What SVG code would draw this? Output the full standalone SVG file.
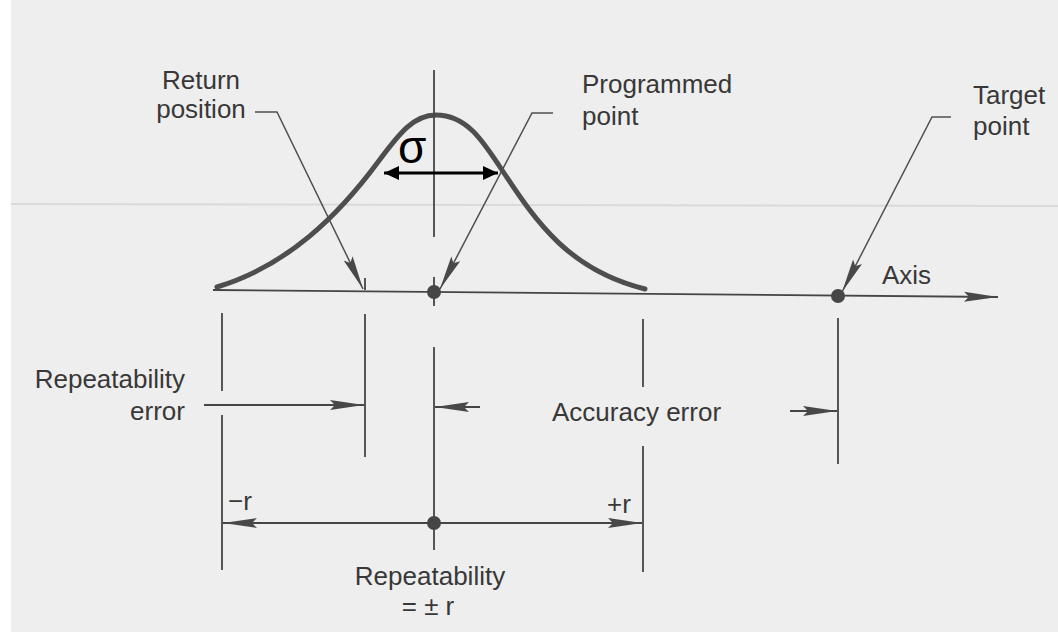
<svg xmlns="http://www.w3.org/2000/svg" width="1058" height="632" viewBox="0 0 1058 632">
<defs>
<style>
.t{font-family:"Liberation Sans",Arial,Helvetica,sans-serif;font-size:26px;fill:#383838}
.ln{stroke:#454545;stroke-width:1.8;fill:none}
.ld{stroke:#505050;stroke-width:1.5;fill:none}
.dot{fill:#464646}
.crv{stroke:#4e4e4e;stroke-width:5;fill:none;stroke-linecap:round;stroke-linejoin:round}
</style>
<marker id="ah" markerUnits="userSpaceOnUse" markerWidth="36" markerHeight="12" refX="34" refY="5.5" orient="auto" overflow="visible">
<path d="M0,0.5 L34,5.5 L0,10.5 L5,5.5 z" fill="#484848"/>
</marker>
<marker id="sa" markerUnits="userSpaceOnUse" markerWidth="16" markerHeight="14" refX="15" refY="7" orient="auto-start-reverse" overflow="visible">
<path d="M0,0 L15,7 L0,14 z" fill="#000"/>
</marker>
</defs>

<g id="background">
<rect x="0" y="0" width="1058" height="632" fill="#eeeeee"/>
<rect x="0" y="0" width="11" height="632" fill="#ffffff"/>
<line x1="11" y1="204" x2="1058" y2="206" stroke="#dadada" stroke-width="2"/>
</g>

<g id="distribution-curve">
<path class="crv" d="M217,287 C287,266 338,216 378,162 C400,132.3 414,115 436,115 C466,115 482,139.4 502,170 C537,223.6 570,270.3 645,289"/>
</g>

<g id="connectors">
<line class="ln" x1="213" y1="290" x2="998" y2="297" marker-end="url(#ah)"/>
<line class="ln" x1="434" y1="70" x2="434" y2="237"/>
<line class="ln" x1="434" y1="277" x2="434" y2="306"/>
<line class="ln" x1="365" y1="278" x2="365" y2="290"/>
<polyline class="ld" points="255,112 277,112 363,289" marker-end="url(#ah)"/>
<polyline class="ld" points="553,113 532,113 440,289" marker-end="url(#ah)"/>
<polyline class="ld" points="951,117 932,117 842,292" marker-end="url(#ah)"/>
<line x1="384" y1="173" x2="498" y2="173" stroke="#000" stroke-width="3" marker-start="url(#sa)" marker-end="url(#sa)"/>
<line class="ln" x1="222" y1="313" x2="222" y2="391"/>
<line class="ln" x1="222" y1="415" x2="222" y2="570"/>
<line class="ln" x1="365" y1="314" x2="365" y2="457"/>
<line class="ln" x1="434" y1="347" x2="434" y2="550"/>
<line class="ln" x1="643" y1="319" x2="643" y2="387"/>
<line class="ln" x1="643" y1="446" x2="643" y2="572"/>
<line class="ln" x1="838" y1="318" x2="838" y2="464"/>
<line class="ln" x1="204" y1="405" x2="364" y2="405" marker-end="url(#ah)"/>
<line class="ln" x1="480" y1="407" x2="435" y2="407" marker-end="url(#ah)"/>
<line class="ln" x1="790" y1="411" x2="837" y2="411" marker-end="url(#ah)"/>
<line class="ln" x1="434" y1="523" x2="223" y2="523" marker-end="url(#ah)"/>
<line class="ln" x1="434" y1="523" x2="642" y2="523" marker-end="url(#ah)"/>
</g>

<g id="programmed-point-dot"><circle class="dot" cx="434" cy="292" r="7"/></g>
<g id="target-point-dot"><circle class="dot" cx="838" cy="296" r="7"/></g>
<g id="repeatability-dot"><circle class="dot" cx="434" cy="523" r="7"/></g>

<g id="label-return-position">
<text class="t" x="201" y="89" text-anchor="middle">Return</text>
<text class="t" x="201" y="118" text-anchor="middle">position</text>
</g>
<g id="label-programmed-point">
<text class="t" x="582" y="93">Programmed</text>
<text class="t" x="582" y="125">point</text>
</g>
<g id="label-target-point">
<text class="t" x="973" y="104">Target</text>
<text class="t" x="973" y="135">point</text>
</g>
<g id="label-axis"><text class="t" x="882" y="284">Axis</text></g>
<g id="label-sigma"><text x="398" y="163" font-family="'Liberation Sans',Arial,sans-serif" font-size="46" fill="#000">σ</text></g>
<g id="label-repeatability-error">
<text class="t" x="185" y="388" text-anchor="end">Repeatability</text>
<text class="t" x="185" y="420" text-anchor="end">error</text>
</g>
<g id="label-accuracy-error"><text class="t" x="552" y="421">Accuracy error</text></g>
<g id="label-minus-r"><text class="t" x="228" y="510">−r</text></g>
<g id="label-plus-r"><text class="t" x="607" y="513">+r</text></g>
<g id="label-repeatability">
<text class="t" x="430" y="585" text-anchor="middle">Repeatability</text>
<text class="t" x="428" y="615" text-anchor="middle">= ± r</text>
</g>
</svg>
